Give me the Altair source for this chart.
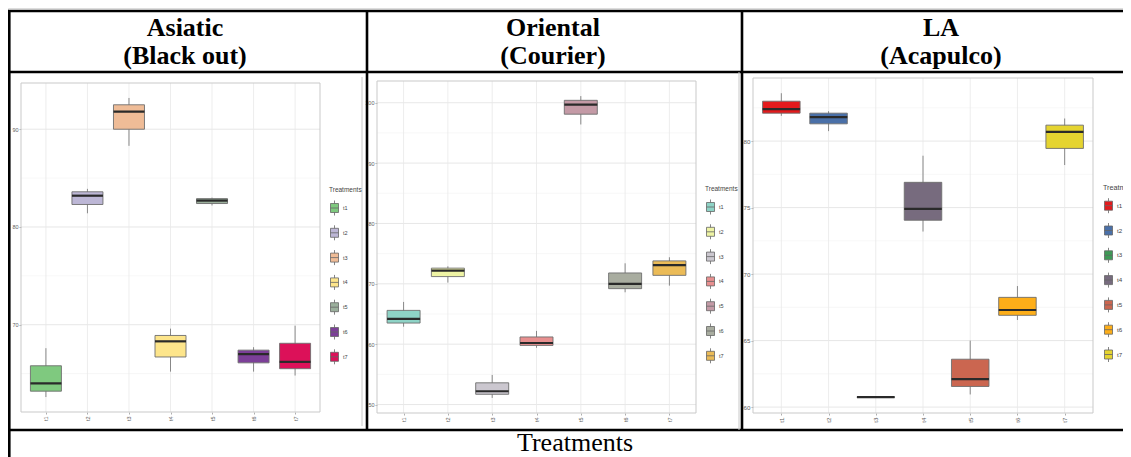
import altair as alt
import pandas as pd

W, H = 1115, 449

treatments = ["t1", "t2", "t3", "t4", "t5", "t6", "t7"]
groups = ["Asiatic", "Oriental", "LA"]
cultivars = ["(Black out)", "(Courier)", "(Acapulco)"]
x_title = "Treatments"
legend_title = "Treatments"

# Asiatic (Black out)
asi_lo = [62.6, 81.4, 88.3, 65.2, 82.2, 65.2, 64.8]
asi_q1 = [63.2, 82.3, 90.0, 66.7, 82.4, 66.1, 65.5]
asi_med = [64.0, 83.2, 91.8, 68.3, 82.7, 67.0, 66.2]
asi_q3 = [65.8, 83.6, 92.5, 68.9, 82.9, 67.4, 68.1]
asi_hi = [67.6, 83.9, 93.2, 69.6, 83.0, 67.7, 69.9]
asi_colors = ["#7FC97F", "#BDB7D6", "#EFBC97", "#FDE58B", "#9BAF9C", "#7C3F98", "#DC1159"]
asi_major = [70, 80, 90]
asi_minor = [65, 75, 85]

# Oriental (Courier)
ori_lo = [62.9, 70.2, 51.1, 59.4, 96.4, 68.6, 69.7]
ori_q1 = [63.5, 71.2, 51.7, 59.8, 98.1, 69.2, 71.4]
ori_med = [64.2, 72.2, 52.2, 60.2, 99.7, 70.0, 73.1]
ori_q3 = [65.6, 72.6, 53.6, 61.2, 100.4, 71.8, 73.8]
ori_hi = [67.0, 72.9, 54.9, 62.2, 101.1, 73.4, 74.4]
ori_colors = ["#8ED3C6", "#EEF3A4", "#CBC7CF", "#E88F8F", "#C49AA6", "#A9ADA0", "#EBBB57"]
ori_major = [50, 60, 70, 80, 90, 100]
ori_minor = [55, 65, 75, 85, 95]

# LA (Acapulco)
la_lo = [81.9, 80.75, 60.7, 73.2, 60.95, 66.55, 78.2]
la_q1 = [82.1, 81.3, 60.72, 74.05, 61.55, 66.9, 79.45]
la_med = [82.4, 81.8, 60.75, 74.9, 62.1, 67.3, 80.7]
la_q3 = [83.0, 82.1, 60.78, 76.9, 63.6, 68.25, 81.2]
la_hi = [83.6, 82.25, 60.8, 78.9, 65.0, 69.1, 81.7]
la_colors = ["#E31A1C", "#4A70A8", "#3E9A56", "#776B7E", "#CB6650", "#FDAE19", "#E5D430"]
la_major = [60, 65, 70, 75, 80]
la_minor = [62.5, 67.5, 72.5, 77.5, 82.5]

KEY = "M-0.8,-0.9H0.8V0.9H-0.8Z M-0.8,0H0.8 M0,-0.9V-1.5 M0,0.9V1.5"
one = pd.DataFrame({"k": [0]})


def panel(lo, q1, med, q3, hi, colors, major, minor, frame, box_w, leg, fs):
    x0, x1, yt, yb = frame
    df = pd.DataFrame({"trt": treatments, "lo": lo, "q1": q1, "med": med, "q3": q3, "hi": hi})
    vmin, vmax = min(lo), max(hi)
    pad = 0.05 * (vmax - vmin)
    ysc = alt.Scale(domain=[vmin - pad, vmax + pad], range=[yb, yt], nice=False, zero=False)
    xsc = alt.Scale(type="point", domain=treatments, range=[x0, x1], padding=0.6)
    yax = alt.Axis(orient="left", offset=-x0, values=major, grid=False, domain=False,
                   ticks=True, tickSize=2, tickColor="#777", tickWidth=0.6,
                   labelFontSize=fs, labelColor="#5e5e5e", labelPadding=1,
                   labelFont="Liberation Sans", title=None)
    xax = alt.Axis(orient="bottom", offset=yb - H, grid=False, domain=False,
                   ticks=True, tickSize=2, tickColor="#777", tickWidth=0.6,
                   labelAngle=270, labelFontSize=fs, labelColor="#5e5e5e",
                   labelPadding=2, labelFont="Liberation Sans", title=None)
    X = alt.X("trt:N", scale=xsc, axis=xax)

    minor_grid = alt.Chart(pd.DataFrame({"v": minor})).mark_rule(
        color="#f2f2f2", strokeWidth=0.6
    ).encode(y=alt.Y("v:Q", scale=ysc, axis=yax), x=alt.value(x0), x2=alt.value(x1))
    major_grid = alt.Chart(pd.DataFrame({"v": major})).mark_rule(
        color="#e4e4e4", strokeWidth=0.9
    ).encode(y=alt.Y("v:Q", scale=ysc, axis=yax), x=alt.value(x0), x2=alt.value(x1))
    vgrid = alt.Chart(df).mark_rule(color="#e8e8e8", strokeWidth=0.8).encode(
        x=X, y=alt.value(yt), y2=alt.value(yb)
    )
    border = alt.Chart(one).mark_rect(fill="transparent", stroke="#c9c9c9", strokeWidth=1).encode(
        x=alt.value(x0), x2=alt.value(x1), y=alt.value(yt), y2=alt.value(yb)
    )
    whisk = alt.Chart(df).mark_rule(color="#7d7d7d", strokeWidth=0.9).encode(
        x=X, y=alt.Y("lo:Q", scale=ysc, axis=yax), y2="hi:Q"
    )
    box = alt.Chart(df).mark_bar(size=box_w, stroke="#6e6e6e", strokeWidth=0.9, opacity=1).encode(
        x=X,
        y=alt.Y("q1:Q", scale=ysc, axis=yax),
        y2="q3:Q",
        color=alt.Color(
            "trt:N",
            scale=alt.Scale(domain=treatments, range=colors),
            legend=alt.Legend(
                orient="none", legendX=leg[0], legendY=leg[1], title=legend_title,
                titleFontSize=fs + 1, titleFont="Liberation Sans", titleFontWeight="normal",
                titleColor="#444", labelFontSize=fs, labelFont="Liberation Sans",
                labelColor="#444", symbolType=KEY, symbolSize=100,
                symbolStrokeColor="#666", symbolStrokeWidth=0.8, symbolOpacity=1,
                rowPadding=5.8, titlePadding=9, labelOffset=3, padding=0,
            ),
        ),
    )
    medl = alt.Chart(df).mark_tick(size=box_w, thickness=2.2, color="#2a2a2a", opacity=1).encode(
        x=X, y=alt.Y("med:Q", scale=ysc, axis=yax)
    )
    return alt.layer(minor_grid, major_grid, vgrid, border, whisk, box, medl)


p1 = panel(asi_lo, asi_q1, asi_med, asi_q3, asi_hi, asi_colors, asi_major, asi_minor,
           (13, 312, 75, 404), 31, (321, 179), 5.5)
p2 = panel(ori_lo, ori_q1, ori_med, ori_q3, ori_hi, ori_colors, ori_major, ori_minor,
           (369, 688, 73, 405), 33, (697, 178), 5.5)
p3 = panel(la_lo, la_q1, la_med, la_q3, la_hi, la_colors, la_major, la_minor,
           (745, 1085, 70, 405), 37.5, (1095, 176), 6.2)

# table lines
lines = []
for (xa, xb, ya) in [(0, W, 3), (0, W, 64), (0, W, 422)]:
    lines.append(alt.Chart(one).mark_rule(color="black", strokeWidth=2.6).encode(
        x=alt.value(xa), x2=alt.value(xb), y=alt.value(ya)))
for (xa, ya, yb) in [(1.3, 3, H), (359, 3, 422), (734, 3, 422)]:
    lines.append(alt.Chart(one).mark_rule(color="black", strokeWidth=2.6).encode(
        x=alt.value(xa), y=alt.value(ya), y2=alt.value(yb)))
for (xa, ya, yb) in [(354, 69, 418), (731, 64, 422)]:
    lines.append(alt.Chart(one).mark_rule(color="#c8c8c8", strokeWidth=1).encode(
        x=alt.value(xa), y=alt.value(ya), y2=alt.value(yb)))

headers = []
for g, c, cx in zip(groups, cultivars, [177, 545, 933]):
    headers.append(alt.Chart(one).mark_text(
        text=[g, c], font="Liberation Serif", fontSize=26, fontWeight="bold",
        align="center", baseline="alphabetic", lineHeight=28, color="black"
    ).encode(x=alt.value(cx), y=alt.value(28)))

bottom = alt.Chart(one).mark_text(
    text=x_title, font="Liberation Serif", fontSize=26, align="center",
    baseline="alphabetic", color="black"
).encode(x=alt.value(567), y=alt.value(443))

chart = alt.layer(p1, p2, p3, *lines, *headers, bottom).resolve_scale(
    x="independent", y="independent", color="independent"
).properties(
    width=W, height=H, autosize=alt.AutoSizeParams(type="none"), padding=0
).configure_view(stroke="transparent", strokeWidth=0).configure(background="white")

chart.save("out.html", embed_options={"renderer": "svg", "actions": False})
